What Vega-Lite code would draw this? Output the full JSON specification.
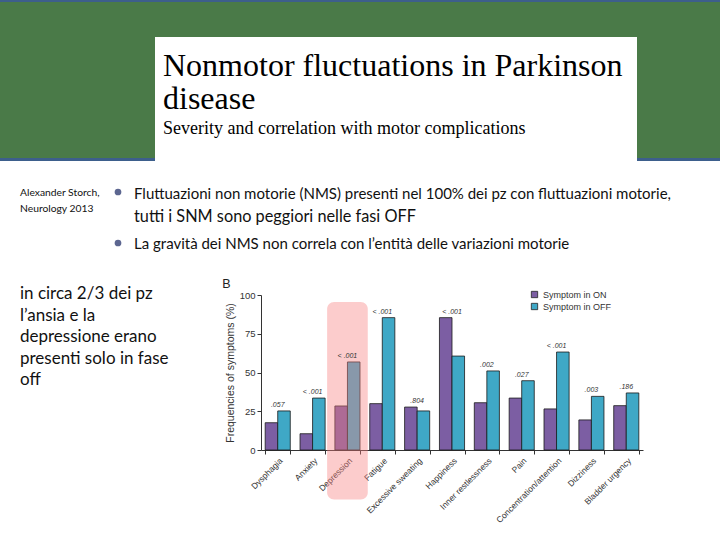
{
  "$schema": "https://vega.github.io/schema/vega-lite/v6.json",
  "padding": 0,
  "spacing": 0,
  "background": "white",
  "config": {
    "view": {"stroke": null},
    "concat": {"spacing": 0},
    "font": "Liberation Sans",
    "axisY": {"values": [0, 25, 50, 75, 100], "labelOverlap": false}
  },
  "vconcat": [
    {
      "spacing": 0,
      "hconcat": [
        {
          "spacing": 0,
          "vconcat": [
            {"width": 155, "height": 2, "data": {"values": []}, "mark": {"type": "point"}, "view": {"fill": "#3d5f8c", "stroke": null}},
            {"width": 155, "height": 156, "data": {"values": []}, "mark": {"type": "point"}, "view": {"fill": "#4a7a48", "stroke": null}},
            {"width": 155, "height": 3, "data": {"values": []}, "mark": {"type": "point"}, "view": {"fill": "#3d5f8c", "stroke": null}}
          ]
        },
        {
          "spacing": 0,
          "vconcat": [
            {"width": 482, "height": 2, "data": {"values": []}, "mark": {"type": "point"}, "view": {"fill": "#3d5f8c", "stroke": null}},
            {"width": 482, "height": 35, "data": {"values": []}, "mark": {"type": "point"}, "view": {"fill": "#4a7a48", "stroke": null}},
            {
              "width": 482, "height": 124,
              "view": {"fill": "white", "stroke": null},
              "data": {"values": [{"title": "Nonmotor fluctuations in Parkinson\ndisease", "sub": "Severity and correlation with motor complications"}]},
              "layer": [
                {"mark": {"type": "text", "font": "Liberation Serif", "fontSize": 32, "align": "left", "baseline": "alphabetic", "lineBreak": "\n", "lineHeight": 33, "color": "#000"},
                 "encoding": {"text": {"field": "title"}, "x": {"value": 8}, "y": {"value": 39}}},
                {"mark": {"type": "text", "font": "Liberation Serif", "fontSize": 18, "align": "left", "baseline": "alphabetic", "color": "#000"},
                 "encoding": {"text": {"field": "sub"}, "x": {"value": 8}, "y": {"value": 97}}}
              ]
            }
          ]
        },
        {
          "spacing": 0,
          "vconcat": [
            {"width": 83, "height": 2, "data": {"values": []}, "mark": {"type": "point"}, "view": {"fill": "#3d5f8c", "stroke": null}},
            {"width": 83, "height": 156, "data": {"values": []}, "mark": {"type": "point"}, "view": {"fill": "#4a7a48", "stroke": null}},
            {"width": 83, "height": 3, "data": {"values": []}, "mark": {"type": "point"}, "view": {"fill": "#3d5f8c", "stroke": null}}
          ]
        }
      ]
    },
    {
      "spacing": 0,
      "hconcat": [
        {
          "width": 110, "height": 116,
          "data": {"values": [{"t": "Alexander Storch,\nNeurology 2013"}]},
          "mark": {"type": "text", "font": "Lato", "fontSize": 10.3, "align": "left", "baseline": "alphabetic", "lineBreak": "\n", "lineHeight": 16, "color": "#111"},
          "encoding": {"text": {"field": "t"}, "x": {"value": 20}, "y": {"value": 35}}
        },
        {
          "width": 610, "height": 116,
          "layer": [
            {"data": {"values": [{}]}, "mark": {"type": "point", "filled": true, "size": 45, "color": "#5c6690", "opacity": 1},
             "encoding": {"x": {"value": 8}, "y": {"value": 31}}},
            {"data": {"values": [{}]}, "mark": {"type": "point", "filled": true, "size": 45, "color": "#5c6690", "opacity": 1},
             "encoding": {"x": {"value": 8}, "y": {"value": 82}}},
            {"data": {"values": [{"t": "Fluttuazioni non motorie (NMS) presenti nel 100% dei pz con fluttuazioni motorie,"}]},
             "mark": {"type": "text", "font": "Lato", "fontSize": 15, "align": "left", "baseline": "alphabetic", "color": "#111"},
             "encoding": {"text": {"field": "t"}, "x": {"value": 24}, "y": {"value": 38}}},
            {"data": {"values": [{"t": "tutti i SNM sono peggiori nelle fasi OFF"}]},
             "mark": {"type": "text", "font": "Lato", "fontSize": 16.3, "align": "left", "baseline": "alphabetic", "color": "#111"},
             "encoding": {"text": {"field": "t"}, "x": {"value": 24}, "y": {"value": 61}}},
            {"data": {"values": [{"t": "La gravità dei NMS non correla con l’entità delle variazioni motorie"}]},
             "mark": {"type": "text", "font": "Lato", "fontSize": 15, "align": "left", "baseline": "alphabetic", "color": "#111"},
             "encoding": {"text": {"field": "t"}, "x": {"value": 24}, "y": {"value": 88}}}
          ]
        }
      ]
    },
    {
      "spacing": 0,
      "hconcat": [
        {
          "width": 222, "height": 230,
          "data": {"values": [{"t": "in circa 2/3 dei pz\nl’ansia e la\ndepressione erano\npresenti solo in fase\noff"}]},
          "mark": {"type": "text", "font": "Lato", "fontSize": 17, "align": "left", "baseline": "alphabetic", "lineBreak": "\n", "lineHeight": 21.5, "color": "#111"},
          "encoding": {"text": {"field": "t"}, "x": {"value": 20}, "y": {"value": 4}}
        },
        {
          "width": 382, "height": 155,
          "title": {"text": "B", "anchor": "start", "frame": "bounds", "fontSize": 12.5, "fontWeight": "normal", "color": "#222", "offset": 0, "dx": -3},
          "data": {"values": [
            {"symptom": "Dysphagia", "status": "Symptom in ON", "value": 17.6, "p": ".057"},
            {"symptom": "Dysphagia", "status": "Symptom in OFF", "value": 25.2, "p": ".057"},
            {"symptom": "Anxiety", "status": "Symptom in ON", "value": 10.5, "p": "< .001"},
            {"symptom": "Anxiety", "status": "Symptom in OFF", "value": 33.5, "p": "< .001"},
            {"symptom": "Depression", "status": "Symptom in ON", "value": 28.4, "p": "< .001"},
            {"symptom": "Depression", "status": "Symptom in OFF", "value": 56.8, "p": "< .001"},
            {"symptom": "Fatigue", "status": "Symptom in ON", "value": 29.9, "p": "< .001"},
            {"symptom": "Fatigue", "status": "Symptom in OFF", "value": 85.4, "p": "< .001"},
            {"symptom": "Excessive sweating", "status": "Symptom in ON", "value": 27.7, "p": ".804"},
            {"symptom": "Excessive sweating", "status": "Symptom in OFF", "value": 25.2, "p": ".804"},
            {"symptom": "Happiness", "status": "Symptom in ON", "value": 85.4, "p": "< .001"},
            {"symptom": "Happiness", "status": "Symptom in OFF", "value": 60.6, "p": "< .001"},
            {"symptom": "Inner restlessness", "status": "Symptom in ON", "value": 30.5, "p": ".002"},
            {"symptom": "Inner restlessness", "status": "Symptom in OFF", "value": 51.0, "p": ".002"},
            {"symptom": "Pain", "status": "Symptom in ON", "value": 33.5, "p": ".027"},
            {"symptom": "Pain", "status": "Symptom in OFF", "value": 44.7, "p": ".027"},
            {"symptom": "Concentration/attention", "status": "Symptom in ON", "value": 26.5, "p": "< .001"},
            {"symptom": "Concentration/attention", "status": "Symptom in OFF", "value": 63.2, "p": "< .001"},
            {"symptom": "Dizziness", "status": "Symptom in ON", "value": 19.4, "p": ".003"},
            {"symptom": "Dizziness", "status": "Symptom in OFF", "value": 34.6, "p": ".003"},
            {"symptom": "Bladder urgency", "status": "Symptom in ON", "value": 28.6, "p": ".186"},
            {"symptom": "Bladder urgency", "status": "Symptom in OFF", "value": 36.8, "p": ".186"}
          ]},
          "encoding": {
            "x": {
              "field": "symptom", "type": "nominal", "sort": null,
              "scale": {"paddingInner": 0.28, "paddingOuter": 0.12},
              "axis": {"title": null, "labelAngle": -45, "labelFontSize": 8.5, "labelColor": "#333", "tickBand": "extent", "domainColor": "#333", "tickColor": "#333", "tickSize": 4, "labelPadding": 2}
            }
          },
          "layer": [
            {
              "mark": {"type": "bar", "stroke": "#1a1a1a", "strokeWidth": 0.8},
              "encoding": {
                "xOffset": {"field": "status", "type": "nominal", "sort": ["Symptom in ON", "Symptom in OFF"]},
                "y": {"field": "value", "type": "quantitative",
                      "scale": {"domain": [0, 100], "nice": false},
                      "axis": {"title": "Frequencies of symptoms (%)", "titleFontSize": 10.5, "titleFontWeight": "normal", "titleColor": "#333", "titlePadding": 4, "values": [0, 25, 50, 75, 100], "labelOverlap": false, "grid": false, "labelFontSize": 9.5, "labelColor": "#333", "domainColor": "#333", "tickColor": "#333", "tickSize": 4, "labelPadding": 2}},
                "color": {"field": "status", "type": "nominal",
                          "scale": {"domain": ["Symptom in ON", "Symptom in OFF"], "range": ["#7c5ea3", "#3fa8c6"]},
                          "legend": {"title": null, "orient": "none", "legendX": 530, "legendY": 290, "symbolType": "square", "symbolSize": 40, "symbolStrokeColor": "#222", "symbolStrokeWidth": 0.8, "labelFontSize": 9, "labelColor": "#333", "rowPadding": 1, "labelOffset": 4}}
              }
            },
            {
              "data": {"values": [{}]},
              "mark": {"type": "bar", "width": {"band": 1.62}, "cornerRadius": 7, "fill": "#f77f7f", "opacity": 0.4},
              "encoding": {
                "x": {"datum": "Depression"},
                "y": {"datum": 95.5, "type": "quantitative",
                      "scale": {"domain": [0, 100], "nice": false},
                      "axis": {"title": "Frequencies of symptoms (%)", "titleFontSize": 10.5, "titleFontWeight": "normal", "titleColor": "#333", "titlePadding": 4, "values": [0, 25, 50, 75, 100], "labelOverlap": false, "grid": false, "labelFontSize": 9.5, "labelColor": "#333", "domainColor": "#333", "tickColor": "#333", "tickSize": 4, "labelPadding": 2}},
                "y2": {"datum": -32}
              }
            },
            {
              "mark": {"type": "text", "fontSize": 7, "fontStyle": "italic", "color": "#333", "baseline": "bottom", "dy": -3},
              "encoding": {
                "y": {"aggregate": "max", "field": "value", "type": "quantitative",
                      "scale": {"domain": [0, 100], "nice": false},
                      "axis": {"title": "Frequencies of symptoms (%)", "titleFontSize": 10.5, "titleFontWeight": "normal", "titleColor": "#333", "titlePadding": 4, "values": [0, 25, 50, 75, 100], "labelOverlap": false, "grid": false, "labelFontSize": 9.5, "labelColor": "#333", "domainColor": "#333", "tickColor": "#333", "tickSize": 4, "labelPadding": 2}},
                "text": {"field": "p"}
              }
            }
          ]
        }
      ]
    }
  ]
}
